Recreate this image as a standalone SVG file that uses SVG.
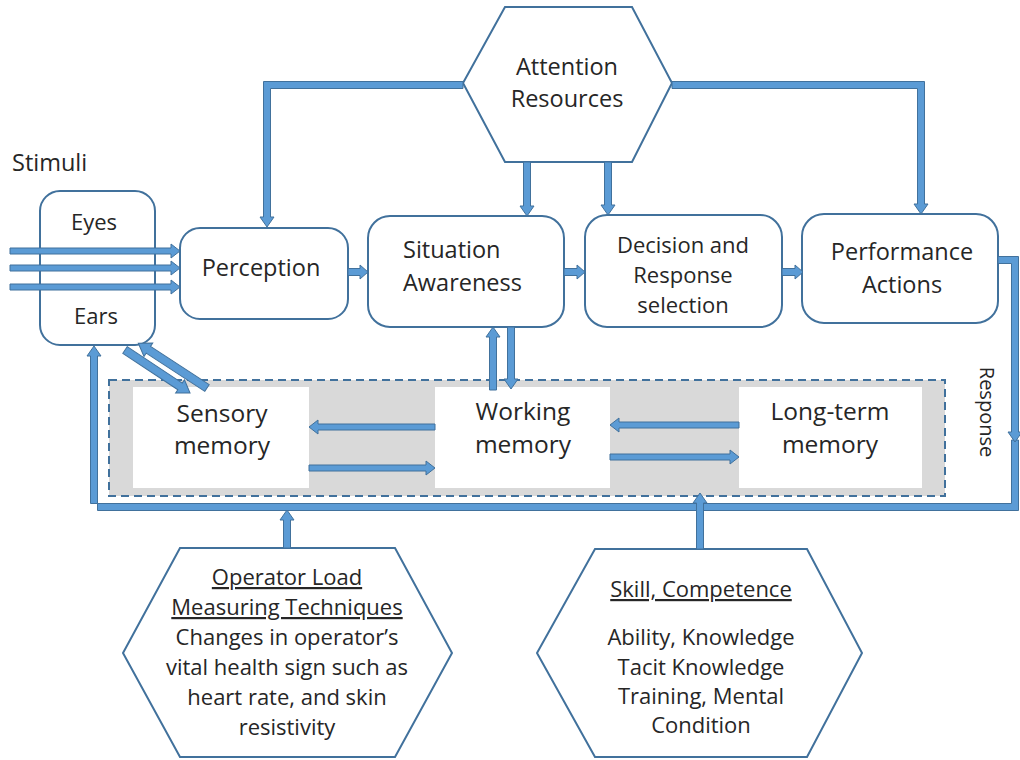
<svg xmlns="http://www.w3.org/2000/svg" width="1020" height="760" viewBox="0 0 1020 760">
  <style>
    .box { fill: #ffffff; stroke: #41719c; stroke-width: 2; }
    .hex { fill: #ffffff; stroke: #41719c; stroke-width: 2; }
    .arw { fill: #5b9bd5; stroke: #41719c; stroke-width: 1; stroke-linejoin: miter; }
    .lbl { font-family: "Open Sans", "Noto Sans", "Liberation Sans", sans-serif; font-size: 23.5px; fill: #262626; text-anchor: middle; }
    .mem { font-size: 24.5px; }
    .mid { font-size: 22px; }
    .ul { text-decoration: underline; }
  </style>
  <rect width="1020" height="760" fill="#ffffff"/>

  <!-- memory store container -->
  <g id="memory-store">
    <rect x="109" y="380" width="836" height="116" fill="#d9d9d9" stroke="#41719c" stroke-width="2" stroke-dasharray="8 5"/>
  </g>
  <g id="sensory-memory">
    <rect x="133" y="387" width="176" height="101" fill="#ffffff"/>
    <text class="lbl mem" x="222" y="422">Sensory</text>
    <text class="lbl mem" x="222" y="454">memory</text>
  </g>
  <g id="working-memory">
    <rect x="435" y="387" width="175" height="101" fill="#ffffff"/>
    <text class="lbl mem" x="523" y="420">Working</text>
    <text class="lbl mem" x="523" y="453">memory</text>
  </g>
  <g id="long-term-memory">
    <rect x="739" y="387" width="183" height="101" fill="#ffffff"/>
    <text class="lbl mem" x="830" y="420">Long-term</text>
    <text class="lbl mem" x="830" y="453">memory</text>
  </g>

  <!-- nodes -->
  <g id="stimuli-label">
    <text class="lbl" x="12" y="171" style="text-anchor:start">Stimuli</text>
  </g>
  <g id="senses">
    <rect class="box" x="40" y="191" width="115" height="154" rx="20"/>
    <text class="lbl mid" x="94" y="230">Eyes</text>
    <text class="lbl mid" x="96" y="324">Ears</text>
  </g>
  <g id="perception">
    <rect class="box" x="180" y="228" width="168" height="91" rx="20"/>
    <text class="lbl" x="261" y="276">Perception</text>
  </g>
  <g id="situation-awareness">
    <rect class="box" x="368" y="216" width="196" height="111" rx="22"/>
    <text class="lbl" x="403" y="258" style="text-anchor:start">Situation</text>
    <text class="lbl" x="403" y="291" style="text-anchor:start">Awareness</text>
  </g>
  <g id="decision">
    <rect class="box" x="585" y="215" width="197" height="112" rx="22"/>
    <text class="lbl mid" x="683" y="253">Decision and</text>
    <text class="lbl mid" x="683" y="283">Response</text>
    <text class="lbl mid" x="683" y="313">selection</text>
  </g>
  <g id="performance">
    <rect class="box" x="802" y="214" width="196" height="109" rx="22"/>
    <text class="lbl" x="902" y="260">Performance</text>
    <text class="lbl" x="902" y="293">Actions</text>
  </g>
  <g id="attention-resources">
    <polygon class="hex" points="505,7 632,7 672,83 632,162 505,162 463,83"/>
    <text class="lbl" x="567" y="75">Attention</text>
    <text class="lbl" x="567" y="107">Resources</text>
  </g>
  <g id="operator-load">
    <polygon class="hex" points="180,548 395,548 452,653 395,757 180,757 123,653"/>
    <text class="lbl mid ul" x="287" y="585">Operator Load</text>
    <text class="lbl mid ul" x="287" y="615">Measuring Techniques</text>
    <text class="lbl mid" x="287" y="645">Changes in operator’s</text>
    <text class="lbl mid" x="287" y="675">vital health sign such as</text>
    <text class="lbl mid" x="287" y="705">heart rate, and skin</text>
    <text class="lbl mid" x="287" y="735">resistivity</text>
  </g>
  <g id="skill-competence">
    <polygon class="hex" points="595,549 807,549 862,653 807,757 595,757 537,653"/>
    <text class="lbl mid ul" x="701" y="597">Skill, Competence</text>
    <text class="lbl mid" x="701" y="645">Ability, Knowledge</text>
    <text class="lbl mid" x="701" y="675">Tacit Knowledge</text>
    <text class="lbl mid" x="701" y="704">Training, Mental</text>
    <text class="lbl mid" x="701" y="733">Condition</text>
  </g>
  <g id="response-label">
    <text class="lbl" style="font-size:20px" x="0" y="0" transform="translate(980,412) rotate(90)">Response</text>
  </g>

  <!-- connectors (block arrows) -->
  <g id="connectors">
    <!-- stimuli into perception -->
    <polygon class="arw" points="10,248 171,248 171,244 180,251 171,258 171,254 10,254"/>
    <polygon class="arw" points="10,265 171,265 171,261 180,268 171,275 171,271 10,271"/>
    <polygon class="arw" points="10,284 171,284 171,280 180,287 171,294 171,290 10,290"/>

    <!-- main chain -->
    <polygon class="arw" points="348,268.5 360,268.5 360,265 368,272 360,279 360,275.5 348,275.5"/>
    <polygon class="arw" points="564,268.5 577,268.5 577,265 585,272 577,279 577,275.5 564,275.5"/>
    <polygon class="arw" points="782,268.5 795,268.5 795,265 803,272 795,279 795,275.5 782,275.5"/>

    <!-- attention resources to perception and performance -->
    <polygon class="arw" points="463,81.5 263.5,81.5 263.5,217 260,217 267,227 274,217 270.5,217 270.5,88.5 463,88.5"/>
    <polygon class="arw" points="672,81.5 924.5,81.5 924.5,204 928,204 921,214 914,204 917.5,204 917.5,88.5 672,88.5"/>

    <!-- attention resources down to SA and decision -->
    <polygon class="arw" points="523.5,162 530.5,162 530.5,206 534,206 527,216 520,206 523.5,206"/>
    <polygon class="arw" points="604.5,162 611.5,162 611.5,205 615,205 608,215 601,205 604.5,205"/>

    <!-- feedback loop: response path around to ears -->
    <polygon class="arw" points="1018.5,440 1018.5,510.5 97.5,510.5 97.5,356 101,356 94,346 87,356 90.5,356 90.5,503.5 1011.5,503.5 1011.5,440"/>
    <polygon class="arw" points="998,256.5 1018.5,256.5 1018.5,432 1022,432 1015,442 1008,432 1011.5,432 1011.5,263.5 998,263.5"/>

    <!-- situation awareness <-> working memory -->
    <polygon class="arw" points="489.5,390 496.5,390 496.5,337 500,337 493,327 486,337 489.5,337"/>
    <polygon class="arw" points="507.5,327 514.5,327 514.5,379 518,379 511,389 504,379 507.5,379"/>

    <!-- senses <-> sensory memory -->
    <g transform="translate(125,350) rotate(33.5)">
      <polygon class="arw" points="0,-4 66,-4 66,-8 78,0 66,8 66,4 0,4"/>
    </g>
    <g transform="translate(207,388) rotate(213.1)">
      <polygon class="arw" points="0,-4 70,-4 70,-8 82,0 70,8 70,4 0,4"/>
    </g>

    <!-- sensory <-> working memory -->
    <polygon class="arw" points="435,424 318,424 318,420 309,427 318,434 318,430 435,430"/>
    <polygon class="arw" points="309,465 426,465 426,461 435,468 426,475 426,471 309,471"/>
    <!-- working <-> long-term memory -->
    <polygon class="arw" points="739,422 619,422 619,418 610,425 619,432 619,428 739,428"/>
    <polygon class="arw" points="610,454 730,454 730,450 739,457 730,464 730,460 610,460"/>

    <!-- influences from below -->
    <polygon class="arw" points="283.5,548 290.5,548 290.5,520 294,520 287,510 280,520 283.5,520"/>
    <polygon class="arw" points="696.5,549 703.5,549 703.5,503 707,503 700,493 693,503 696.5,503"/>
  </g>
</svg>
